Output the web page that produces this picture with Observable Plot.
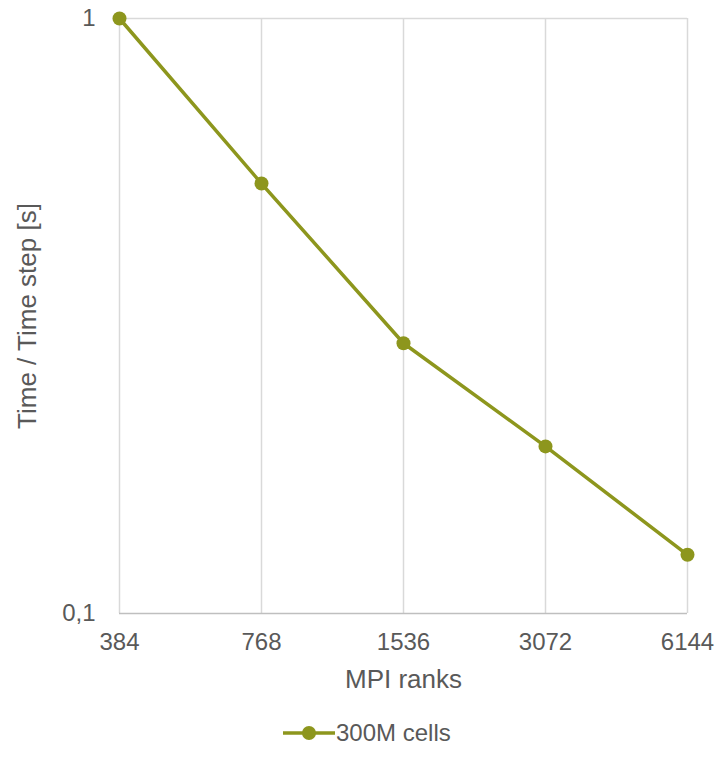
<!DOCTYPE html>
<html>
<head>
<meta charset="utf-8">
<script src="https://cdn.jsdelivr.net/npm/d3@7"></script>
<script src="https://cdn.jsdelivr.net/npm/@observablehq/plot@0.6"></script>
<style>
  body { margin: 0; background: #fff; font-family: "Liberation Sans", Arial, sans-serif; }
  #wrap { position: relative; width: 717px; height: 770px; }
  #legend { position: absolute; left: 0; top: 718px; width: 717px; height: 30px; }
</style>
</head>
<body>
<div id="wrap">
  <div id="chart"></div>
  <div id="legend"></div>
</div>
<script>
const ranks = [384, 768, 1536, 3072, 6144];
const timePerStep = [1.0, 0.528, 0.2846, 0.1909, 0.1255];
const seriesName = "300M cells";
const yTicks = [0.1, 1];
const color = "#8d961d";

const data = ranks.map((r, i) => ({ranks: r, t: timePerStep[i]}));

const chart = Plot.plot({
  width: 717,
  height: 710,
  marginLeft: 119,
  marginRight: 30,
  marginTop: 18,
  marginBottom: 97,
  style: {fontFamily: "'Liberation Sans', Arial, sans-serif", fontSize: "24px", color: "#595959", background: "#fff"},
  x: {type: "log", base: 2, domain: [384, 6144]},
  y: {type: "log", domain: [0.1, 1]},
  marks: [
    Plot.gridX(ranks, {stroke: "#d9d9d9", strokeOpacity: 1, strokeWidth: 1.5}),
    Plot.ruleY([1], {stroke: "#d9d9d9", strokeWidth: 1.5}),
    Plot.ruleY([0.1], {stroke: "#bfbfbf", strokeWidth: 1.5}),
    Plot.axisX({ticks: ranks, tickSize: 0, tickPadding: 19, tickFormat: d => String(d), fontSize: 24, label: null, fill: "#595959"}),
    Plot.axisX({ticks: [], tickSize: 0, label: "MPI ranks", labelAnchor: "center", labelArrow: "none", labelOffset: 74, fontSize: 26, fill: "#595959"}),
    Plot.axisY({ticks: yTicks, tickSize: 0, tickPadding: 24, tickFormat: d => String(d).replace(".", ","), fontSize: 24, label: null, fill: "#595959"}),
    Plot.axisY({ticks: [], tickSize: 0, label: "Time / Time step [s]", labelAnchor: "center", labelArrow: "none", labelOffset: 102, fontSize: 26, fill: "#595959"}),
    Plot.line(data, {x: "ranks", y: "t", stroke: color, strokeWidth: 3.5}),
    Plot.dot(data, {x: "ranks", y: "t", r: 7, fill: color})
  ]
});
document.getElementById("chart").appendChild(chart);

// legend
const lg = d3.select("#legend").append("svg").attr("width", 717).attr("height", 30);
lg.append("line").attr("x1", 283).attr("x2", 335).attr("y1", 15).attr("y2", 15)
  .attr("stroke", color).attr("stroke-width", 3.5);
lg.append("circle").attr("cx", 309).attr("cy", 15).attr("r", 7).attr("fill", color);
lg.append("text").attr("x", 336).attr("y", 15).attr("dy", "0.35em")
  .attr("font-family", "'Liberation Sans', Arial, sans-serif").attr("font-size", 24)
  .attr("fill", "#595959").text(seriesName);
</script>
</body>
</html>
